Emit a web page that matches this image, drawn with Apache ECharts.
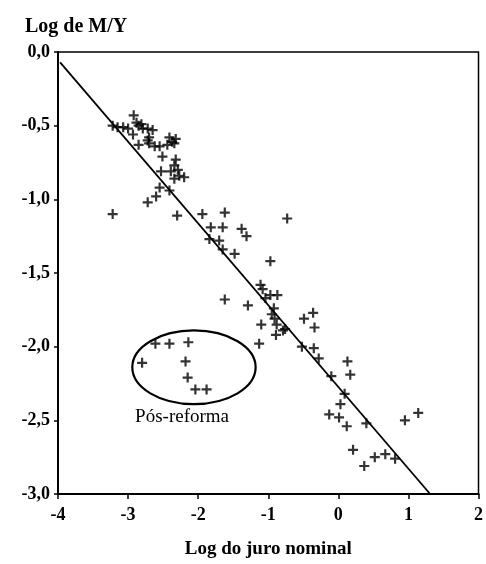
<!DOCTYPE html>
<html>
<head>
<meta charset="utf-8">
<script src="https://cdn.jsdelivr.net/npm/echarts@6/dist/echarts.min.js"></script>
<style>
  html, body { margin: 0; padding: 0; background: #fff; }
  #main { width: 486px; height: 564px; }
</style>
</head>
<body>
<div id="main"></div>
<script>
// pontos (log do juro nominal, log de M/Y)
var xs = [-3.22, -3.15, -3.07, -3.00, -2.93, -2.92, -2.88, -2.85, -2.81, -2.79, -2.72, -2.65,
  -2.70, -2.72, -2.70, -2.62, -2.55, -2.41, -2.32, -2.44, -2.37, -2.34, -2.85,
  -2.51, -2.32, -2.34, -2.53, -2.39, -2.29, -2.27, -2.20, -2.34, -2.55, -2.41, -2.60, -2.72, -2.30, -3.22,
  -1.94, -1.62, -1.82, -1.65, -1.38, -1.31, -1.84, -1.70, -1.65, -1.48, -0.97, -0.73,
  -1.11, -1.08, -0.97, -0.87, -1.04, -0.92, -0.95, -0.91, -0.88, -0.79, -0.76, -0.89,
  -1.29, -1.62, -1.10, -1.13, -0.49, -0.36, -0.34, -0.52, -0.35, -0.28,
  0.13, 0.17, -0.10, 0.09, 0.03, -0.13, 0.01, 0.12, 0.40, 0.95, 1.14, 0.21, 0.52, 0.67, 0.81, 0.37];
var ys = [-0.50, -0.51, -0.51, -0.52, -0.56, -0.43, -0.48, -0.50, -0.49, -0.52, -0.52, -0.53,
  -0.58, -0.60, -0.62, -0.64, -0.64, -0.58, -0.59, -0.63, -0.61, -0.62, -0.63,
  -0.71, -0.73, -0.77, -0.81, -0.81, -0.80, -0.84, -0.85, -0.86, -0.92, -0.94, -0.98, -1.02, -1.11, -1.10,
  -1.10, -1.09, -1.19, -1.19, -1.20, -1.25, -1.27, -1.28, -1.34, -1.37, -1.42, -1.13,
  -1.58, -1.61, -1.65, -1.65, -1.67, -1.74, -1.78, -1.81, -1.85, -1.89, -1.88, -1.92,
  -1.72, -1.68, -1.85, -1.98, -1.81, -1.77, -1.87, -2.00, -2.01, -2.08,
  -2.10, -2.19, -2.20, -2.32, -2.39, -2.46, -2.48, -2.54, -2.52, -2.50, -2.45, -2.70, -2.75, -2.73, -2.76, -2.81];

// pós-reforma
var postX = [-2.61, -2.41, -2.14, -2.80, -2.18, -2.15, -2.04, -1.88];
var postY = [-1.98, -1.98, -1.97, -2.11, -2.10, -2.21, -2.29, -2.29];

// reta de regressão
var lineX = [-3.97, 1.31];
var lineY = [-0.07, -3.0];

var xTicks = [-4, -3, -2, -1, 0, 1, 2];
var yTicks = [0, -0.5, -1, -1.5, -2, -2.5, -3];

var ellipse = { cx: -2.06, cy: -2.14, rx: 0.88, ry: 0.25 };

var plus = 'path://M3.9,0H6.1V3.9H10V6.1H6.1V10H3.9V6.1H0V3.9H3.9Z';
var serif = '"Liberation Serif", "Times New Roman", serif';

function pairs(a, b) {
  return a.map(function (v, i) { return [v, b[i]]; });
}

var chart = echarts.init(document.getElementById('main'));
chart.setOption({
  animation: false,
  backgroundColor: '#fff',
  title: {
    text: 'Log de M/Y',
    left: 20, top: 12,
    textStyle: { fontFamily: serif, fontSize: 20, fontWeight: 'bold', color: '#000' }
  },
  grid: {
    left: 58, right: 5, top: 52, bottom: 64,
    show: true, borderColor: '#000', borderWidth: 1.5, backgroundColor: 'transparent'
  },
  xAxis: {
    type: 'value', min: xTicks[0], max: xTicks[xTicks.length - 1], interval: 1,
    name: 'Log do juro nominal', nameLocation: 'middle', nameGap: 46,
    nameTextStyle: { fontFamily: serif, fontSize: 19, fontWeight: 'bold', color: '#000' },
    axisLine: { onZero: false, lineStyle: { color: '#000', width: 2 } },
    axisTick: { show: true, length: 5, lineStyle: { color: '#000', width: 1.5 } },
    axisLabel: { fontFamily: serif, fontSize: 18, fontWeight: 'bold', color: '#000', margin: 12 },
    splitLine: { show: false }
  },
  yAxis: {
    type: 'value', min: yTicks[yTicks.length - 1], max: yTicks[0], interval: 0.5,
    axisLine: { onZero: false, lineStyle: { color: '#000', width: 2 } },
    axisTick: { show: true, length: 4, lineStyle: { color: '#000', width: 1.5 } },
    axisLabel: {
      fontFamily: serif, fontSize: 18, fontWeight: 'bold', color: '#000', margin: 8,
      formatter: function (v) { return v.toFixed(1).replace('.', ','); }
    },
    splitLine: { show: false }
  },
  series: [
    {
      type: 'line',
      data: pairs(lineX, lineY),
      symbol: 'none',
      lineStyle: { color: '#000', width: 1.8 },
      z: 2
    },
    {
      type: 'scatter',
      data: pairs(xs, ys),
      symbol: plus,
      symbolSize: 10,
      itemStyle: { color: '#000' },
      z: 3
    },
    {
      type: 'scatter',
      data: pairs(postX, postY),
      symbol: plus,
      symbolSize: 10,
      itemStyle: { color: '#000' },
      z: 3
    },
    {
      type: 'custom',
      data: [[ellipse.cx, ellipse.cy]],
      silent: true,
      z: 1,
      renderItem: function (params, api) {
        var c = api.coord([api.value(0), api.value(1)]);
        var s = api.size([ellipse.rx, ellipse.ry]);
        var t = api.coord([ellipse.cx - 0.17, ellipse.cy - 0.34]);
        return {
          type: 'group',
          children: [
            {
              type: 'ellipse',
              shape: { cx: c[0], cy: c[1], rx: s[0], ry: s[1] },
              style: { fill: 'none', stroke: '#000', lineWidth: 2.2 }
            },
            {
              type: 'text',
              x: t[0], y: t[1],
              style: {
                text: 'Pós-reforma', fill: '#000', align: 'center', verticalAlign: 'middle',
                font: '19px ' + serif
              }
            }
          ]
        };
      }
    }
  ]
});
</script>
</body>
</html>
